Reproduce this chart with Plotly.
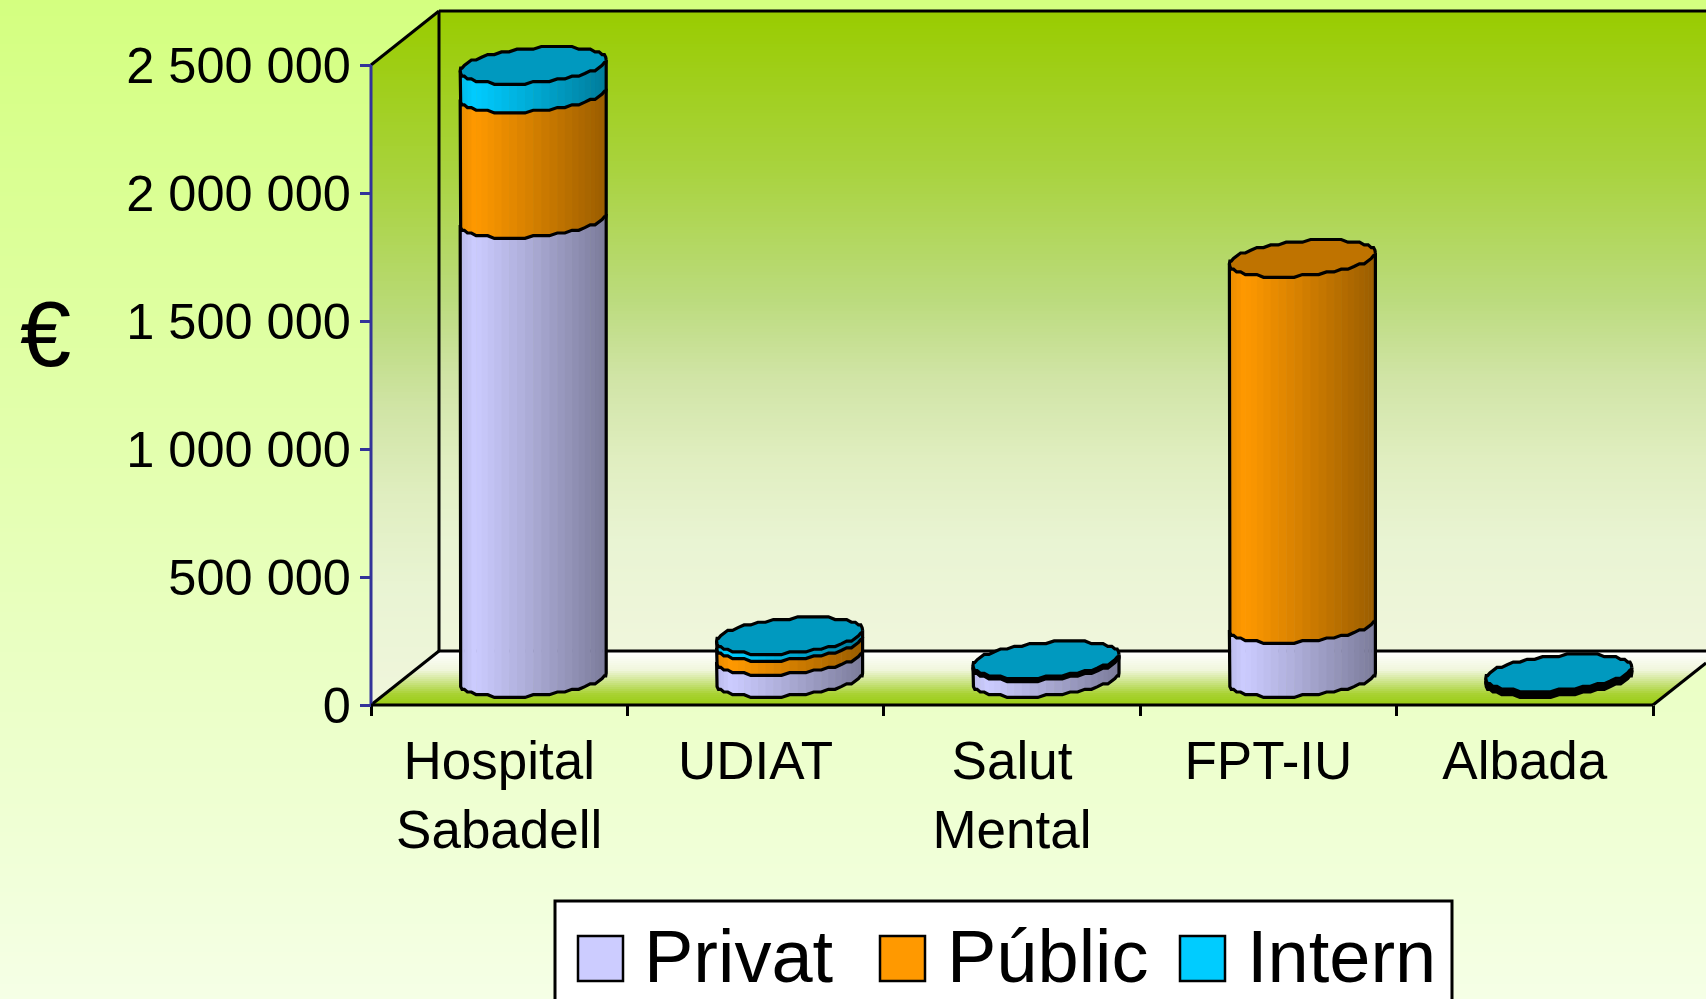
import math
import plotly.graph_objects as go

# ---- data ----
categories = ["Hospital<br>Sabadell", "UDIAT", "Salut<br>Mental", "FPT-IU", "Albada"]
privat = [1793000, 86000, 62000, 211000, 8000]
public = [490000, 55000, 5000, 1430000, 4000]
intern = [112000, 26000, 6000, 0, 10000]
y_ticks = [0, 500000, 1000000, 1500000, 2000000, 2500000]
y_tick_labels = ["0", "500 000", "1 000 000", "1 500 000", "2 000 000", "2 500 000"]
series = [("Privat", privat, (204, 204, 255)),
          ("Públic", public, (255, 153, 0)),
          ("Intern", intern, (0, 204, 255))]

# ---- layout geometry (pixels of the 1706x999 page) ----
W, H = 1706, 999
X0, X5 = 371.0, 1653.0
Y0, YTOP = 705.0, 65.0
PX_X = (X5 - X0) / 5            # px per category
PX_Y = 2500000 / (Y0 - YTOP)    # value per px
FONT = "Liberation Sans"


def fx(px):
    return px / W


def fy(py):
    return 1 - py / H


def mix(a, b, f):
    return tuple(a[i] + (b[i] - a[i]) * f for i in range(3))


def rgb(c):
    return "rgb(%d,%d,%d)" % tuple(round(v) for v in c)


def stops_color(stops, f):
    for (f0, c0), (f1, c1) in zip(stops, stops[1:]):
        if f <= f1:
            return mix(c0, c1, (f - f0) / (f1 - f0))
    return stops[-1][1]


def clip_band(poly, y0, y1):
    def clip(points, inside, cross):
        out = []
        for i, p in enumerate(points):
            q = points[(i + 1) % len(points)]
            if inside(p):
                out.append(p)
            if inside(p) != inside(q):
                out.append(cross(p, q))
        return out

    def at(level):
        return lambda p, q: (p[0] + (q[0] - p[0]) * (level - p[1]) / (q[1] - p[1]), level)

    r = clip(poly, lambda p: p[1] >= y0, at(y0))
    if r:
        r = clip(r, lambda p: p[1] <= y1, at(y1))
    return r


shapes = []


def gradient(poly, ytop, ybot, stops, step=3):
    ys = [p[1] for p in poly]
    y = math.floor(min(ys))
    while y < max(ys):
        part = clip_band(poly, y, y + step + 1)
        if len(part) >= 3:
            f = min(1, max(0, (y + step / 2 - ytop) / (ybot - ytop)))
            path = "M" + "L".join("%.5f,%.5f" % (fx(a), fy(b)) for a, b in part) + "Z"
            shapes.append(dict(type="path", xref="paper", yref="paper", path=path,
                               fillcolor=rgb(stops_color(stops, f)), line=dict(width=0), layer="below"))
        y += step


def wall_line(x0, y0, x1, y1, width=3, color="black"):
    shapes.append(dict(type="line", xref="paper", yref="paper", x0=fx(x0), y0=fy(y0), x1=fx(x1), y1=fy(y1),
                       line=dict(color=color, width=width), layer="below"))


GREEN = (153, 204, 0)
WALL_STOPS = [(0, GREEN), (0.25, (169, 211, 63)), (0.45, (187, 219, 125)), (0.57, (208, 228, 165)),
              (0.70, (224, 238, 192)), (0.83, (233, 244, 211)), (1, (240, 246, 220))]
gradient([(0, 0), (W, 0), (W, H), (0, H)], 0, H, [(0, (212, 255, 128)), (1, (245, 255, 230))], step=4)
gradient([(439, 11), (W, 11), (W, 651), (439, 651)], 11, 651, WALL_STOPS)
gradient([(371, 65), (439, 11), (439, 651), (371, 705)], 11, 705, WALL_STOPS)
gradient([(439, 651), (W, 651), (W, 663), (1653, 705), (371, 705)], 651, 705,
         [(0, (255, 255, 255)), (0.35, (240, 246, 220)), (0.8, (168, 210, 50)), (1, (153, 204, 20))], step=2)
wall_line(439, 11, W, 11)
wall_line(439, 11, 439, 651)
wall_line(371, 65, 439, 11)
wall_line(439, 651, W, 651)
wall_line(371, 705, 439, 651)
wall_line(1653, 705, W, 663)

fig = go.Figure()

# ---- cylinders, built from the series through the axes ----
SHIFT_X = 34.0 / PX_X           # depth shift to the right, category units
LIFT = 26.5 * PX_Y              # depth shift upward, value units
A = 73.0                        # half width, px
B = 17.5                        # half height of the ellipse, px
K = 6.0                         # tilt, px
STEPS = 28
QUANT = 2.7
OUTLINE = 3.2


def offset(t):
    dx = A * math.cos(t)
    dy = B * math.sin(t) + K * math.cos(t)
    return dx / PX_X, round(dy / QUANT) * QUANT * PX_Y


front = [offset(math.pi + math.pi * i / STEPS) for i in range(STEPS + 1)]
ring = [offset(2 * math.pi * i / (2 * STEPS)) for i in range(2 * STEPS + 1)]


def shade(base, frac):
    if frac < 0.08:
        f = 0.92 + frac
    else:
        f = 1 - 0.40 * (frac - 0.08) / 0.92
    return rgb(tuple(v * f for v in base))


for i in range(len(categories)):
    cx = i + 0.5 + SHIFT_X
    level = LIFT
    top_color = None
    for name, values, base in series:
        v = values[i]
        if v <= 0:
            continue
        low, high = level, level + v
        for s in range(STEPS):
            (ax, ay), (bx, by) = front[s], front[s + 1]
            bxx = bx + (0.6 / PX_X if s < STEPS - 1 else 0)
            fig.add_trace(go.Scatter(
                x=[cx + ax, cx + bxx, cx + bxx, cx + ax, cx + ax],
                y=[low + ay, low + by, high + by, high + ay, low + ay],
                mode="none", fill="toself", fillcolor=shade(base, (ax * PX_X + A) / (2 * A)),
                hoverinfo="skip", showlegend=False))
        xs = [cx - A / PX_X] + [cx + p[0] for p in front]
        ys = [high + front[0][1]] + [low + p[1] for p in front]
        xs.append(cx + A / PX_X)
        ys.append(high + front[-1][1])
        fig.add_trace(go.Scatter(x=xs, y=ys, mode="lines", line=dict(color="black", width=OUTLINE),
                                 hoverinfo="skip", showlegend=False))
        level = high
        top_color = base
    fig.add_trace(go.Scatter(
        x=[cx + p[0] for p in ring], y=[level + p[1] for p in ring],
        mode="lines", fill="toself", fillcolor=rgb(tuple(v * 0.75 for v in top_color)),
        line=dict(color="black", width=OUTLINE), hoverinfo="skip", showlegend=False))

# value axis line
fig.add_trace(go.Scatter(x=[0, 0], y=[0, 2500000], mode="lines", line=dict(color="#333399", width=3),
                         hoverinfo="skip", showlegend=False))
# category axis line
fig.add_trace(go.Scatter(x=[0, len(categories)], y=[0, 0], mode="lines", line=dict(color="black", width=3.2),
                         hoverinfo="skip", showlegend=False))

# ---- legend, drawn to the reference's size ----
annotations = [dict(text="€", xref="paper", yref="paper", x=fx(45), y=fy(334), showarrow=False,
                    font=dict(family=FONT, size=92, color="black"), xanchor="center", yanchor="middle")]
shapes.append(dict(type="rect", xref="paper", yref="paper", x0=fx(555), x1=fx(1452), y0=fy(901), y1=fy(1010),
                   fillcolor="white", line=dict(color="black", width=3), layer="above"))
legend_x = [(578, 642), (880, 945), (1180, 1245)]
for (sx, tx), (name, _, base) in zip(legend_x, series):
    shapes.append(dict(type="rect", xref="paper", yref="paper", x0=fx(sx), x1=fx(sx + 45), y0=fy(936), y1=fy(981),
                       fillcolor=rgb(base), line=dict(color="black", width=2.5), layer="above"))
    annotations.append(dict(text=name, xref="paper", yref="paper", x=fx(tx), y=fy(956), showarrow=False,
                            font=dict(family=FONT, size=74, color="black"), xanchor="left", yanchor="middle"))

fig.update_layout(
    width=W, height=H, margin=dict(l=0, r=0, t=0, b=0, pad=0),
    paper_bgcolor="#f4ffe6", plot_bgcolor="rgba(0,0,0,0)", showlegend=False,
    shapes=shapes, annotations=annotations, hovermode=False,
    xaxis=dict(domain=[0, 1], range=[-X0 / PX_X, (W - X0) / PX_X], anchor="free", position=fy(Y0),
               showgrid=False, zeroline=False, showline=False,
               tickmode="array", tickvals=[i + 0.5 for i in range(len(categories))], ticktext=categories,
               ticks="", ticklabelstandoff=20, tickfont=dict(family=FONT, size=53, color="black"),
               minor=dict(ticks="outside", tickmode="array", tickvals=list(range(len(categories) + 1)),
                          ticklen=10, tickwidth=2.8, tickcolor="black", showgrid=False)),
    yaxis=dict(domain=[0, 1], range=[(Y0 - H) * PX_Y, Y0 * PX_Y], anchor="free", position=fx(X0),
               showgrid=False, zeroline=False, showline=False,
               tickmode="array", tickvals=y_ticks, ticktext=y_tick_labels,
               ticks="outside", ticklen=11, tickwidth=3, tickcolor="#333399", ticklabelstandoff=-1,
               tickfont=dict(family=FONT, size=50.5, color="black")),
)

fig.write_html("out.html", config=dict(displayModeBar=False),
               post_script="document.documentElement.style.overflow='hidden';document.body.style.margin='0';document.body.style.overflow='hidden';")
